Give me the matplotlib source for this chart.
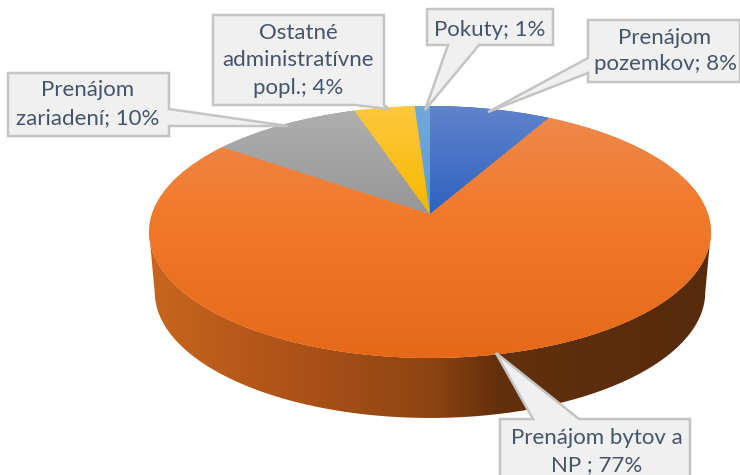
import numpy as np
import matplotlib
matplotlib.use("Agg")
import matplotlib.pyplot as plt
from matplotlib.path import Path
from matplotlib.patches import PathPatch
from matplotlib.transforms import Transform
from matplotlib.colors import LinearSegmentedColormap

categories = ["Prenájom pozemkov", "Prenájom bytov a NP", "Prenájom zariadení",
              "Ostatné administratívne popl.", "Pokuty"]
values = [8, 77, 10, 4, 1]
label_lines = [["Prenájom", "pozemkov; 8%"], ["Prenájom bytov a", "NP ; 77%"],
               ["Prenájom", "zariadení; 10%"], ["Ostatné", "administratívne", "popl.; 4%"],
               ["Pokuty; 1%"]]
top_colors = [("#6184CC", "#2F62BF", "#2F62BF"), ("#EE8A50", "#F27A2B", "#E56919"),
              ("#B0B0B0", "#979797", "#979797"), ("#FFC83F", "#F6B800", "#F6B800"),
              ("#72A9DC", "#5B9BD5", "#5B9BD5")]

CX, CY, B, A, K, DEPTH = 430, 214, 278, 123.4, 1 / 7, 60
BOTTOM_SCALE = 0.98


class Persp(Transform):
    input_dims = output_dims = 2
    is_separable = False
    has_inverse = False

    def transform_non_affine(self, xy):
        xy = np.asarray(xy, float)
        d = 1 + K * xy[:, 1]
        return np.column_stack([CX + B * xy[:, 0] / d, CY - A * xy[:, 1] / d])

    def transform_path_non_affine(self, path):
        return Path(self.transform_non_affine(path.vertices), path.codes)


fig = plt.figure(figsize=(7.4, 4.75), dpi=100)
ax = fig.add_axes([0, 0, 1, 1])
wedges, _ = ax.pie(values, startangle=90, counterclock=False, radius=1,
                   colors=[c[1] for c in top_colors], frame=False)
ax.set_aspect("auto")
ax.axis("off")
P = Persp()

# side wall: the bottom rim is slightly narrower than the top rim
a0 = np.arcsin(K)
t2 = np.linspace(-a0, -np.pi + a0, 300)
arc = P.transform(np.column_stack([np.cos(t2), np.sin(t2)]))
low = np.column_stack([CX + BOTTOM_SCALE * (arc[:, 0] - CX), arc[:, 1] + DEPTH])
side_xy = np.vstack([arc, low[::-1]])
side = PathPatch(Path(np.vstack([side_xy, side_xy[0]])), transform=ax.transData, fc="none", ec="none")
ax.add_patch(side)
side_cm = LinearSegmentedColormap.from_list("s", [(0, "#C8661E"), (0.2, "#B3561A"), (0.5, "#8F4412"),
                                                  (0.62, "#63300C"), (1, "#562A0B")])
im = ax.imshow(np.linspace(0, 1, 256)[None, :], extent=(149, 711, 420, 200), cmap=side_cm, aspect="auto", zorder=1)
im.set_clip_path(side)

# top face: pie wedges under perspective with vertical gradient
for w, (c1, c2, c3) in zip(wedges, top_colors):
    w.set_transform(P + ax.transData)
    w.set_zorder(2)
    cm = LinearSegmentedColormap.from_list("g", [(0, c1), (0.42, c2), (1, c3)])
    g = ax.imshow(np.linspace(0, 1, 256)[:, None], extent=(140, 720, 360, 104), cmap=cm, aspect="auto", zorder=3)
    g.set_clip_path(w)
ax.set_xlim(0, 740)
ax.set_ylim(475, 0)

# callouts
callouts = [
    dict(poly=[(588, 20), (740, 20), (740, 82), (588, 82), (588, 73), (488, 112), (588, 58)], ys=[38, 64], xc=665),
    dict(poly=[(500, 419), (533, 419), (496, 353), (579, 419), (690, 419), (690, 490), (500, 490)], ys=[438, 465], xc=597),
    dict(poly=[(8, 73), (169, 73), (169, 109), (288, 126), (169, 126), (169, 136), (8, 136)], ys=[90, 118], xc=88),
    dict(poly=[(213, 15), (384, 15), (384, 105), (389, 109), (355, 105), (213, 105)], ys=[33, 60, 88], xc=298),
    dict(poly=[(427, 9), (553, 9), (553, 45), (479, 45), (425, 110), (448, 45), (427, 45)], ys=[30], xc=490),
]
for c, lines in zip(callouts, label_lines):
    v = c["poly"] + [c["poly"][0]]
    ax.add_patch(PathPatch(Path(v, closed=True), fc="#F0F0F0", ec="#C4C4C4", lw=1.8, zorder=5, joinstyle="miter"))
    for y, s in zip(c["ys"], lines):
        ax.text(c["xc"], y, s, ha="center", va="center", family="Lato", fontsize=16, color="#44546A", zorder=6)

fig.savefig("out.png", dpi=100)
